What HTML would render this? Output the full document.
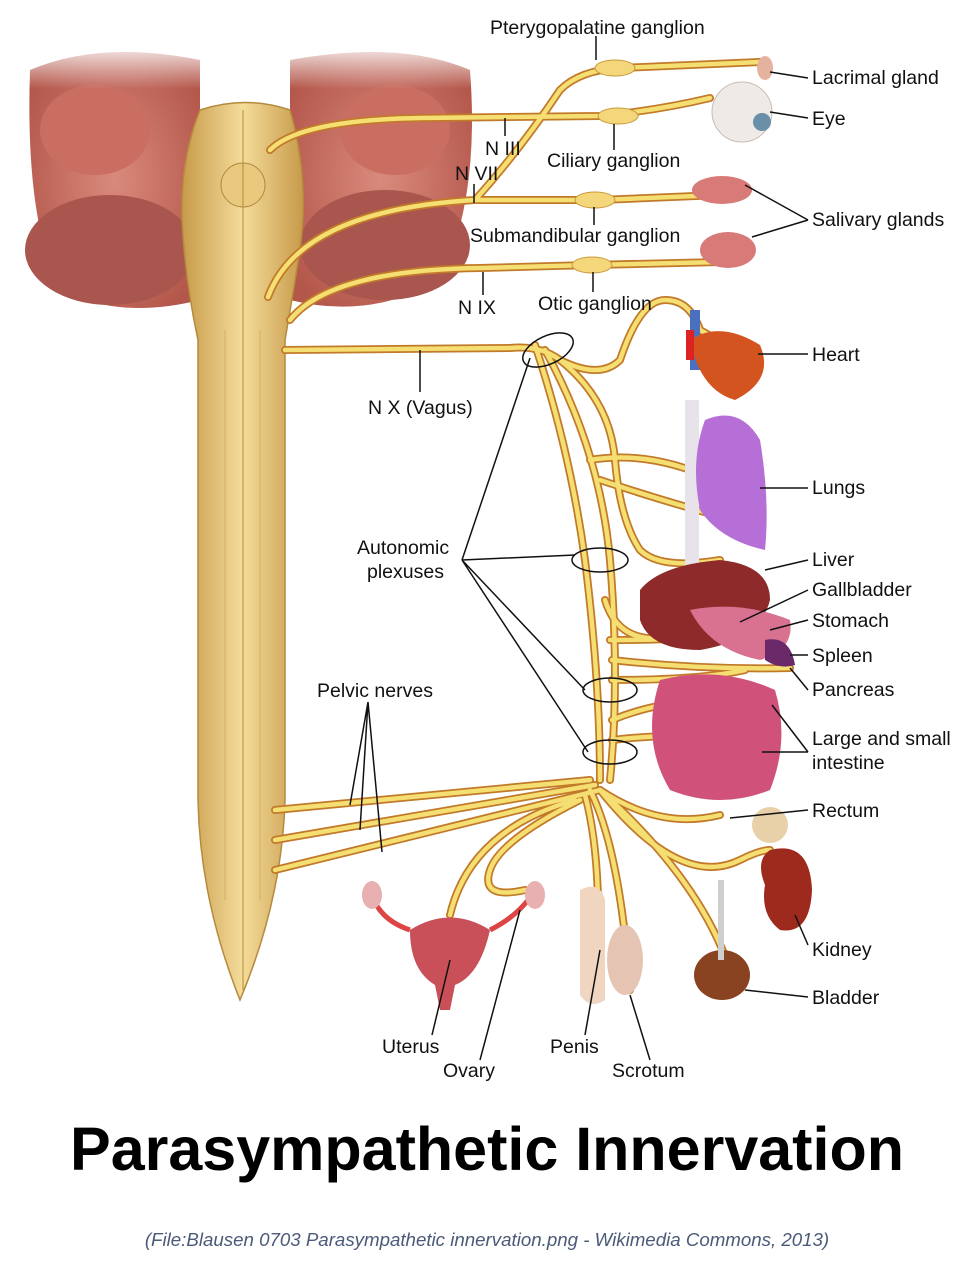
<!DOCTYPE html>
<html><head><meta charset="utf-8"><style>
html,body{margin:0;padding:0;background:#fff;}
svg{display:block}
text{font-family:"Liberation Sans",Arial,sans-serif;font-size:19.5px;fill:#111}
</style></head><body>
<svg width="975" height="1273" viewBox="0 0 975 1273" xmlns="http://www.w3.org/2000/svg">
<defs>
<linearGradient id="fade" x1="0" y1="0" x2="0" y2="1">
<stop offset="0" stop-color="#fff" stop-opacity="1"/><stop offset="0.35" stop-color="#fff" stop-opacity="0"/>
</linearGradient>
<radialGradient id="brain" cx="0.5" cy="0.5" r="0.6">
<stop offset="0" stop-color="#d98a7c"/><stop offset="1" stop-color="#b4574b"/>
</radialGradient>
<linearGradient id="cord" x1="0" y1="0" x2="1" y2="0">
<stop offset="0" stop-color="#c79a4a"/><stop offset="0.5" stop-color="#f4dc9a"/><stop offset="1" stop-color="#c79a4a"/>
</linearGradient>
</defs>

<g>
<path d="M30 70 Q100 40 200 60 L200 300 Q120 320 60 290 Q25 220 30 70Z" fill="url(#brain)"/>
<path d="M470 70 Q400 40 290 60 L290 300 Q370 320 440 280 Q480 200 470 70Z" fill="url(#brain)"/>
<ellipse cx="110" cy="250" rx="85" ry="55" fill="#a9564f"/>
<ellipse cx="385" cy="245" rx="85" ry="55" fill="#a9564f"/>
<ellipse cx="95" cy="130" rx="55" ry="45" fill="#c96e60"/>
<ellipse cx="395" cy="130" rx="55" ry="45" fill="#c96e60"/>
<rect x="20" y="40" width="470" height="140" fill="url(#fade)"/>
</g>
<path d="M200 110 Q245 95 290 110 Q310 180 300 250 Q292 300 285 340 L285 800 Q282 900 240 1000 Q200 900 198 800 L198 340 Q185 280 182 220 Q180 160 200 110Z" fill="url(#cord)" stroke="#b58a3c" stroke-width="1.5"/>
<ellipse cx="243" cy="185" rx="22" ry="22" fill="#e8c97e" stroke="#b58a3c"/>
<line x1="243" y1="110" x2="243" y2="990" stroke="#b58a3c" stroke-width="1"/>
<line x1="225" y1="330" x2="225" y2="900" stroke="#d3ae62" stroke-width="1"/>
<line x1="260" y1="330" x2="260" y2="900" stroke="#d3ae62" stroke-width="1"/>

<g fill="none" stroke-linecap="round">
<g stroke="#c17a2a" stroke-width="8">
<path d="M270 150 Q300 120 420 118 L600 116 Q660 110 710 98"/>
<path d="M268 297 Q300 210 475 200 Q520 150 560 90 Q580 70 620 68 L760 62"/>
<path d="M475 200 L600 200 L720 195"/>
<path d="M290 320 Q330 270 480 268 L590 265 L720 262"/>
<path d="M285 350 L510 348 Q540 345 560 360 Q600 380 620 360 Q640 300 665 300 Q690 300 700 330 L735 350"/>
<path d="M535 345 Q570 450 585 560 Q600 680 600 780"/>
<path d="M545 350 Q600 450 610 560 Q620 680 610 780"/>
<path d="M560 360 Q610 400 615 460 Q620 520 640 550 Q660 570 720 560"/>
<path d="M590 460 Q650 450 715 480"/>
<path d="M600 480 Q660 500 715 515"/>
<path d="M605 600 Q620 650 680 635"/>
<path d="M610 640 Q680 640 740 635"/>
<path d="M612 660 Q700 670 790 668"/>
<path d="M612 680 Q700 680 745 670"/>
<path d="M612 720 Q660 700 720 700"/>
<path d="M612 740 Q700 730 745 745"/>
<path d="M275 810 L590 780"/>
<path d="M275 840 L595 785"/>
<path d="M275 870 L600 790"/>
<path d="M600 790 Q660 830 720 815"/>
<path d="M600 790 Q680 890 740 860 Q760 850 770 850"/>
<path d="M600 790 Q700 880 730 970"/>
<path d="M590 790 Q620 850 630 990"/>
<path d="M585 795 Q600 850 598 940"/>
<path d="M580 800 Q500 840 490 870 Q480 900 525 890"/>
<path d="M575 800 Q470 830 450 915"/>
</g>
<g stroke="#f6df72" stroke-width="4.5">
<path d="M270 150 Q300 120 420 118 L600 116 Q660 110 710 98"/>
<path d="M268 297 Q300 210 475 200 Q520 150 560 90 Q580 70 620 68 L760 62"/>
<path d="M475 200 L600 200 L720 195"/>
<path d="M290 320 Q330 270 480 268 L590 265 L720 262"/>
<path d="M285 350 L510 348 Q540 345 560 360 Q600 380 620 360 Q640 300 665 300 Q690 300 700 330 L735 350"/>
<path d="M535 345 Q570 450 585 560 Q600 680 600 780"/>
<path d="M545 350 Q600 450 610 560 Q620 680 610 780"/>
<path d="M560 360 Q610 400 615 460 Q620 520 640 550 Q660 570 720 560"/>
<path d="M590 460 Q650 450 715 480"/>
<path d="M600 480 Q660 500 715 515"/>
<path d="M605 600 Q620 650 680 635"/>
<path d="M610 640 Q680 640 740 635"/>
<path d="M612 660 Q700 670 790 668"/>
<path d="M612 680 Q700 680 745 670"/>
<path d="M612 720 Q660 700 720 700"/>
<path d="M612 740 Q700 730 745 745"/>
<path d="M275 810 L590 780"/>
<path d="M275 840 L595 785"/>
<path d="M275 870 L600 790"/>
<path d="M600 790 Q660 830 720 815"/>
<path d="M600 790 Q680 890 740 860 Q760 850 770 850"/>
<path d="M600 790 Q700 880 730 970"/>
<path d="M590 790 Q620 850 630 990"/>
<path d="M585 795 Q600 850 598 940"/>
<path d="M580 800 Q500 840 490 870 Q480 900 525 890"/>
<path d="M575 800 Q470 830 450 915"/>
</g>
</g>
<g fill="#f3d77a" stroke="#c99a3a">
<ellipse cx="615" cy="68" rx="20" ry="8"/>
<ellipse cx="618" cy="116" rx="20" ry="8"/>
<ellipse cx="595" cy="200" rx="20" ry="8"/>
<ellipse cx="592" cy="265" rx="20" ry="8"/>
</g>

<circle cx="742" cy="112" r="30" fill="#eeeae6" stroke="#c9bdb5"/>
<circle cx="762" cy="122" r="9" fill="#6a8fa8"/>
<ellipse cx="765" cy="68" rx="8" ry="12" fill="#e6b2a0"/>
<ellipse cx="722" cy="190" rx="30" ry="14" fill="#d77a78"/>
<ellipse cx="728" cy="250" rx="28" ry="18" fill="#d77a78"/>
<rect x="690" y="310" width="10" height="60" fill="#4a6fbf"/>
<path d="M690 340 Q720 320 760 345 Q775 380 735 400 Q700 390 690 340Z" fill="#d3541e"/>
<rect x="686" y="330" width="8" height="30" fill="#d22"/>
<rect x="685" y="400" width="14" height="170" fill="#e8e2ea"/>
<path d="M705 420 Q740 405 760 440 Q770 500 765 550 Q720 540 700 510 Q690 460 705 420Z" fill="#b76fd8"/>
<path d="M640 590 Q660 565 720 560 Q770 565 770 600 Q760 640 700 650 Q650 650 640 620Z" fill="#8e2a2a"/>
<path d="M690 610 Q740 600 790 620 Q795 650 760 660 Q710 650 690 610Z" fill="#d97290"/>
<path d="M765 640 Q790 635 795 665 Q780 670 765 660Z" fill="#6a2a6a"/>
<path d="M660 680 Q720 665 775 690 Q790 740 770 790 Q720 810 670 790 Q640 740 660 680Z" fill="#d0527a"/>
<ellipse cx="770" cy="825" rx="18" ry="18" fill="#e8d0a8"/>
<path d="M770 850 Q810 840 812 890 Q810 935 780 930 Q760 915 765 885 Q755 860 770 850Z" fill="#9e2a1e"/>
<ellipse cx="722" cy="975" rx="28" ry="25" fill="#8a4320"/>
<rect x="718" y="880" width="6" height="80" fill="#cfcfcf"/>
<path d="M410 930 Q450 905 490 930 Q480 975 455 985 L450 1010 L440 1010 L435 985 Q410 970 410 930Z" fill="#c95058"/>
<path d="M410 930 Q380 920 372 895 M490 930 Q520 915 535 890" stroke="#d44" stroke-width="5" fill="none"/>
<ellipse cx="372" cy="895" rx="10" ry="14" fill="#e8b0b0"/>
<ellipse cx="535" cy="895" rx="10" ry="14" fill="#e8b0b0"/>
<path d="M580 890 Q600 880 605 900 L605 1000 Q590 1010 580 995Z" fill="#f0d5c0"/>
<ellipse cx="625" cy="960" rx="18" ry="35" fill="#e6c4b4"/>

<g fill="none" stroke="#111" stroke-width="1.5">
<ellipse cx="548" cy="350" rx="27" ry="14" transform="rotate(-25 548 350)"/>
<ellipse cx="600" cy="560" rx="28" ry="12"/>
<ellipse cx="610" cy="690" rx="27" ry="12"/>
<ellipse cx="610" cy="752" rx="27" ry="12"/>
<path d="M462 560 L530 358 M462 560 L575 555 M462 560 L585 690 M462 560 L588 752"/>
<path d="M368 702 L350 805 M368 702 L360 830 M368 702 L382 852"/>
<path d="M596 36 L596 60 M505 136 L505 118 M474 184 L474 203 M614 150 L614 124 M594 225 L594 207 M483 295 L483 272 M593 292 L593 272 M420 392 L420 350"/>
<path d="M770 72 L808 78 M770 112 L808 118 M745 185 L808 220 M752 237 L808 220 M758 354 L808 354 M760 488 L808 488 M765 570 L808 560 M740 622 L808 590 M770 630 L808 620 M790 655 L808 655 M790 668 L808 690 M772 705 L808 752 M762 752 L808 752 M730 818 L808 810 M795 915 L808 945 M745 990 L808 997"/>
<path d="M432 1035 L450 960 M480 1060 L520 910 M585 1035 L600 950 M650 1060 L630 995"/>
</g>

<text x="490" y="34">Pterygopalatine ganglion</text>
<text x="812" y="84">Lacrimal gland</text>
<text x="812" y="125">Eye</text>
<text x="485" y="155">N III</text>
<text x="455" y="180">N VII</text>
<text x="547" y="167">Ciliary ganglion</text>
<text x="812" y="226">Salivary glands</text>
<text x="470" y="242">Submandibular ganglion</text>
<text x="458" y="314">N IX</text>
<text x="538" y="310">Otic ganglion</text>
<text x="812" y="361">Heart</text>
<text x="368" y="414">N X (Vagus)</text>
<text x="812" y="494">Lungs</text>
<text x="357" y="554">Autonomic</text>
<text x="367" y="578">plexuses</text>
<text x="812" y="566">Liver</text>
<text x="812" y="596">Gallbladder</text>
<text x="812" y="627">Stomach</text>
<text x="812" y="662">Spleen</text>
<text x="812" y="696">Pancreas</text>
<text x="317" y="697">Pelvic nerves</text>
<text x="812" y="745">Large and small</text>
<text x="812" y="769">intestine</text>
<text x="812" y="817">Rectum</text>
<text x="812" y="956">Kidney</text>
<text x="812" y="1004">Bladder</text>
<text x="382" y="1053">Uterus</text>
<text x="550" y="1053">Penis</text>
<text x="443" y="1077">Ovary</text>
<text x="612" y="1077">Scrotum</text>

<text x="487" y="1170" text-anchor="middle" style="font-size:61px;font-weight:bold;fill:#000">Parasympathetic Innervation</text>
<text x="487" y="1246" text-anchor="middle" style="font-size:18.7px;font-style:italic;fill:#4a5a78">(File:Blausen 0703 Parasympathetic innervation.png - Wikimedia Commons, 2013)</text>
</svg>
</body></html>
